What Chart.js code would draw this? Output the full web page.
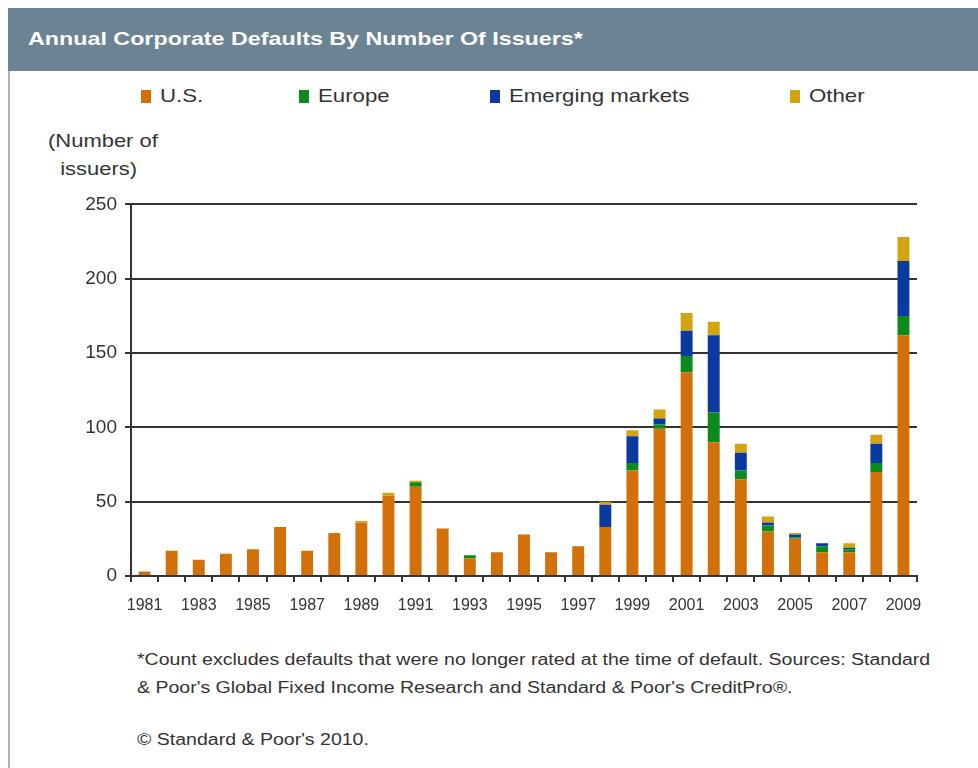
<!DOCTYPE html>
<html>
<head>
<meta charset="utf-8">
<script src="https://cdn.jsdelivr.net/npm/chart.js@4"></script>
<style>
  html, body { margin: 0; padding: 0; background: #fff; }
  body { width: 978px; height: 768px; position: relative; overflow: hidden; font-family: 'Liberation Sans', Arial, sans-serif; color: #333; }
  .frame { position: absolute; left: 8px; top: 8px; width: 2px; height: 760px; background: #a9b4be; }
  .header { position: absolute; left: 8px; top: 8px; width: 970px; height: 63px; background: #6b8393; }
  .header h1 { margin: 0; position: absolute; left: 20px; top: 20px; font-size: 19px; font-weight: bold; color: #fff; white-space: nowrap; transform: scaleX(1.225); transform-origin: 0 0; }
  .legend-item { position: absolute; top: 85px; font-size: 19px; color: #333; white-space: nowrap; }
  .legend-item i { display: inline-block; width: 10px; height: 13px; margin-right: 9px; vertical-align: -1px; }
  .legend-item span { display: inline-block; transform: scaleX(1.17); transform-origin: 0 0; }
  .unit { position: absolute; left: 48px; top: 127px; font-size: 18px; line-height: 28px; color: #333; white-space: nowrap; transform: scaleX(1.22); transform-origin: 0 0; }
  .note { position: absolute; left: 137px; font-size: 16px; line-height: 28px; color: #333; white-space: nowrap; transform: scaleX(1.22); transform-origin: 0 0; }
  #wrap { position: absolute; left: 8px; top: 185px; width: 930px; height: 435px; }
</style>
</head>
<body>
<div class="frame"></div>
<div class="header"><h1>Annual Corporate Defaults By Number Of Issuers*</h1></div>
<div id="legend"></div>
<div class="unit">(Number of<br>&nbsp;&nbsp;issuers)</div>
<div id="wrap"><canvas id="chart"></canvas></div>
<div class="note" style="top:646px">*Count excludes defaults that were no longer rated at the time of default. Sources: Standard<br>&amp; Poor's Global Fixed Income Research and Standard &amp; Poor's CreditPro®.</div>
<div class="note" style="top:726px">© Standard &amp; Poor's 2010.</div>

<script>
  const years = ['1981', '1982', '1983', '1984', '1985', '1986', '1987', '1988', '1989', '1990',
    '1991', '1992', '1993', '1994', '1995', '1996', '1997', '1998', '1999', '2000',
    '2001', '2002', '2003', '2004', '2005', '2006', '2007', '2008', '2009'];

  const usDefaults = [3, 17, 11, 15, 18, 33, 17, 29, 36, 54, 60, 32, 12, 16, 28, 16, 20, 33, 71, 99, 137, 90, 65, 30, 25, 16, 16, 70, 162];
  const europeDefaults = [0, 0, 0, 0, 0, 0, 0, 0, 0, 0, 3, 0, 2, 0, 0, 0, 0, 0, 5, 3, 11, 20, 6, 4, 1, 4, 2, 6, 13];
  const emergingDefaults = [0, 0, 0, 0, 0, 0, 0, 0, 0, 0, 0, 0, 0, 0, 0, 0, 0, 15, 18, 4, 17, 52, 12, 2, 2, 2, 1, 13, 37];
  const otherDefaults = [0, 0, 0, 0, 0, 0, 0, 0, 1, 2, 1, 0, 0, 0, 0, 0, 0, 2, 4, 6, 12, 9, 6, 4, 1, 0, 3, 6, 16];

  const yTicks = [0, 50, 100, 150, 200, 250];

  const seriesNames = ['U.S.', 'Europe', 'Emerging markets', 'Other'];
  const seriesColors = ['#d2700a', '#0b8a1e', '#0a3aa0', '#d4a312'];
  const legendLeft = [141, 299, 490, 790];

  const FONT = "'Liberation Sans', Arial, sans-serif";
  const INK = '#333';

  // legend row above the plot
  const legend = document.getElementById('legend');
  seriesNames.forEach((name, i) => {
    const item = document.createElement('div');
    item.className = 'legend-item';
    item.style.left = legendLeft[i] + 'px';
    item.innerHTML = `<i style="background:${seriesColors[i]}"></i><span>${name}</span>`;
    legend.appendChild(item);
  });

  const values = [usDefaults, europeDefaults, emergingDefaults, otherDefaults];
  const datasets = seriesNames.map((name, i) => ({
    label: name,
    data: values[i],
    backgroundColor: seriesColors[i],
    borderWidth: 0,
    barPercentage: 0.44,
    categoryPercentage: 1
  }));

  new Chart(document.getElementById('chart'), {
    type: 'bar',
    data: { labels: years, datasets },
    options: {
      responsive: true,
      maintainAspectRatio: false,
      animation: false,
      layout: { padding: { top: 9, right: 21, bottom: 0, left: 0 } },
      plugins: { legend: { display: false }, tooltip: { enabled: false } },
      scales: {
        x: {
          stacked: true,
          offset: true,
          grid: { display: true, offset: true, drawOnChartArea: false, drawTicks: true, tickLength: 6, color: INK, lineWidth: 2 },
          border: { display: true, color: INK, width: 2 },
          ticks: {
            autoSkip: false,
            maxRotation: 0,
            padding: 14,
            color: INK,
            font: { family: FONT, size: 16 },
            callback: (value, index) => (index % 2 === 0 ? years[index] : '')
          },
          afterFit: (scale) => { scale.height = 44; }
        },
        y: {
          stacked: true,
          min: 0,
          max: 250,
          afterBuildTicks: (scale) => { scale.ticks = yTicks.map((v) => ({ value: v })); },
          grid: { color: INK, lineWidth: 2, tickLength: 6 },
          border: { display: true, color: INK, width: 2 },
          ticks: { padding: 8, color: INK, font: { family: FONT, size: 19 } },
          afterFit: (scale) => { scale.width = 123; }
        }
      }
    }
  });
</script>
</body>
</html>
